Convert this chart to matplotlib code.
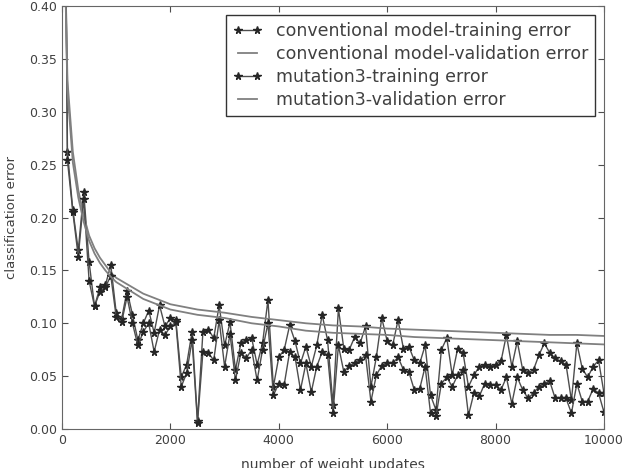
import matplotlib
matplotlib.use("Agg")
import matplotlib.pyplot as plt

# training error every 100 updates (0 .. 10000)
updates = list(range(0, 10001, 100))

conv_train = [
    0.900, 0.262, 0.207, 0.169, 0.224, 0.158, 0.116, 0.134, 0.136, 0.155,  # 0-900
    0.110, 0.104, 0.131, 0.108, 0.084, 0.100, 0.112, 0.091, 0.117, 0.097,  # 1000-1900
    0.105, 0.103, 0.049, 0.061, 0.092, 0.008, 0.092, 0.094, 0.086, 0.117,  # 2000-2900
    0.079, 0.101, 0.056, 0.081, 0.084, 0.086, 0.061, 0.081, 0.122, 0.040,  # 3000-3900
    0.068, 0.075, 0.098, 0.083, 0.062, 0.078, 0.059, 0.079, 0.108, 0.084,  # 4000-4900
    0.023, 0.114, 0.076, 0.075, 0.087, 0.081, 0.097, 0.040, 0.068, 0.105,  # 5000-5900
    0.083, 0.079, 0.103, 0.076, 0.078, 0.065, 0.062, 0.079, 0.032, 0.018,  # 6000-6900
    0.075, 0.086, 0.051, 0.076, 0.072, 0.040, 0.051, 0.059, 0.061, 0.059,  # 7000-7900
    0.061, 0.064, 0.089, 0.059, 0.083, 0.056, 0.053, 0.056, 0.070, 0.081,  # 8000-8900
    0.072, 0.067, 0.064, 0.061, 0.027, 0.081, 0.057, 0.049, 0.059, 0.065,  # 9000-9900
    0.034,
]

mut_train = [
    0.900, 0.254, 0.205, 0.163, 0.218, 0.140, 0.116, 0.130, 0.134, 0.145,
    0.106, 0.101, 0.125, 0.100, 0.079, 0.092, 0.100, 0.073, 0.094, 0.089,
    0.097, 0.101, 0.040, 0.053, 0.084, 0.006, 0.073, 0.072, 0.065, 0.103,
    0.059, 0.090, 0.046, 0.072, 0.067, 0.075, 0.046, 0.075, 0.100, 0.032,
    0.043, 0.042, 0.073, 0.068, 0.037, 0.062, 0.035, 0.059, 0.073, 0.070,
    0.015, 0.079, 0.054, 0.060, 0.062, 0.065, 0.070, 0.026, 0.051, 0.060,
    0.062, 0.062, 0.068, 0.056, 0.054, 0.037, 0.038, 0.059, 0.015, 0.012,
    0.043, 0.049, 0.040, 0.051, 0.056, 0.013, 0.034, 0.031, 0.043, 0.042,
    0.042, 0.037, 0.049, 0.024, 0.049, 0.037, 0.029, 0.034, 0.040, 0.043,
    0.045, 0.029, 0.029, 0.029, 0.015, 0.043, 0.026, 0.026, 0.038, 0.034,
    0.016,
]

# validation error (smooth curves)
val_updates = [0, 100, 200, 300, 400, 500, 600, 700, 800, 900, 1000,
               1500, 2000, 2500, 3000, 3500, 4000, 4500, 5000, 5500, 6000,
               6500, 7000, 7500, 8000, 8500, 9000, 9500, 10000]
conv_val = [0.60, 0.33, 0.262, 0.226, 0.202, 0.183, 0.171, 0.162, 0.155, 0.148, 0.143,
            0.128, 0.118, 0.113, 0.110, 0.106, 0.103, 0.100, 0.098, 0.097, 0.095,
            0.094, 0.093, 0.092, 0.091, 0.090, 0.089, 0.089, 0.088]
mut_val = [0.58, 0.32, 0.252, 0.219, 0.196, 0.178, 0.166, 0.157, 0.150, 0.144, 0.139,
           0.123, 0.113, 0.108, 0.105, 0.100, 0.097, 0.093, 0.091, 0.090, 0.089,
           0.087, 0.086, 0.085, 0.084, 0.083, 0.082, 0.081, 0.080]

labels = ["conventional model-training error", "conventional model-validation error",
          "mutation3-training error", "mutation3-validation error"]

fig = plt.figure(figsize=(6.22, 4.68), dpi=100)
ax = fig.add_axes([0.0997, 0.0833, 0.8713, 0.9037])

train_kw = dict(color="0.3", lw=1.0, marker="*", ms=5.5, mfc="0.15", mec="0.15")
val_kw = dict(color="0.5", lw=1.3)

ax.plot(updates, conv_train, label=labels[0], **train_kw)
ax.plot(val_updates, conv_val, label=labels[1], **val_kw)
ax.plot(updates, mut_train, label=labels[2], **train_kw)
ax.plot(val_updates, mut_val, label=labels[3], **val_kw)

ax.set_xlim(0, 10000)
ax.set_ylim(0, 0.40)
ax.set_xticks([0, 2000, 4000, 6000, 8000, 10000])
ax.set_yticks([0.0, 0.05, 0.10, 0.15, 0.20, 0.25, 0.30, 0.35, 0.40])
ax.yaxis.set_major_formatter(matplotlib.ticker.FormatStrFormatter("%.2f"))
ax.tick_params(direction="in", top=True, right=True, labelsize=9,
               colors="0.3", labelcolor="0.25", length=4)
for s in ax.spines.values():
    s.set_color("0.4")

ax.set_xlabel("number of weight updates", fontsize=10, color="0.25", labelpad=8)
ax.set_ylabel("classification error", fontsize=9.5, color="0.25", labelpad=8)

leg = ax.legend(loc="upper right", fontsize=12.5, numpoints=2, fancybox=False,
                framealpha=1, edgecolor="0.2", handlelength=1.7, labelspacing=0.3,
                handletextpad=0.8)
for t in leg.get_texts():
    t.set_color("0.25")

fig.savefig("out.png", dpi=100)
